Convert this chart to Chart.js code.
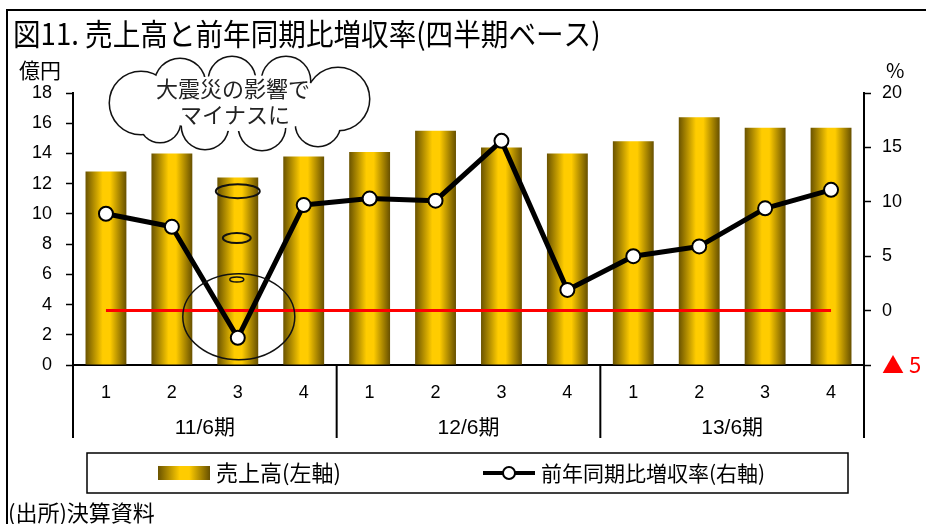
<!DOCTYPE html>
<html>
<head>
<meta charset="utf-8">
<script src="https://cdn.jsdelivr.net/npm/chart.js@4.4.1/dist/chart.umd.min.js"></script>
<style>
  html, body { margin: 0; padding: 0; background: #ffffff; }
  #wrap { width: 926px; height: 524px; position: relative; }
</style>
</head>
<body>
<div id="wrap"><canvas id="c" width="926" height="524"></canvas></div>
<script>
// Quarterly sales (億円) and year-on-year growth (%)
const quarters = ['1', '2', '3', '4', '1', '2', '3', '4', '1', '2', '3', '4'];
const fiscalYears = ['11/6期', '12/6期', '13/6期'];
const sales = [12.8, 14.0, 12.4, 13.8, 14.1, 15.5, 14.4, 14.0, 14.8, 16.4, 15.7, 15.7];
const growth = [8.9, 7.7, -2.5, 9.7, 10.3, 10.1, 15.6, 1.9, 5.0, 5.9, 9.4, 11.1];
const zeroLine = [0, 0, 0, 0, 0, 0, 0, 0, 0, 0, 0, 0];
const salesAxis = { min: 0, max: 18, step: 2 };
const growthAxis = { min: -5, max: 20, step: 5 };

const titleText = '図11. 売上高と前年同期比増収率(四半期ベース)';
const salesLabel = '売上高(左軸)';
const growthLabel = '前年同期比増収率(右軸)';
const calloutLines = ['大震災の影響で', 'マイナスに'];
const sourceText = '(出所)決算資料';

const JP = '"Noto Sans CJK JP", "Noto Sans", sans-serif';
const NUM = '"Liberation Sans", Arial, sans-serif';
const NARROW = '"Liberation Sans Narrow", "Liberation Sans", "Noto Sans CJK JP", sans-serif';
const BAR_PCT = 0.62;

function goldStops(g) {
  g.addColorStop(0, '#6a5300');
  g.addColorStop(0.42, '#ffcc00');
  g.addColorStop(0.6, '#ffcc00');
  g.addColorStop(1, '#675000');
  return g;
}

function goldFill(context) {
  const chart = context.chart;
  const xs = chart.scales && chart.scales.x;
  if (!xs || context.dataIndex === undefined) return '#ffcc00';
  const cx = xs.getPixelForValue(context.dataIndex);
  const half = (xs.width / quarters.length) * BAR_PCT / 2;
  if (!isFinite(cx) || !isFinite(half) || half <= 0) return '#ffcc00';
  return goldStops(chart.ctx.createLinearGradient(cx - half, 0, cx + half, 0));
}

// Cloud outline built as the union of overlapping lobes
const cloudLobes = [
  [141, 103, 31], [180, 84, 25], [232, 80, 23], [286, 81, 24], [338, 99, 31],
  [318, 124, 22], [262, 127, 23], [205, 126, 23], [160, 122, 20]
];
function drawCloud(ctx) {
  ctx.save();
  ctx.strokeStyle = '#111111';
  ctx.lineWidth = 3;
  cloudLobes.forEach(([x, y, r]) => {
    ctx.beginPath();
    ctx.arc(x, y, r, 0, Math.PI * 2);
    ctx.stroke();
  });
  ctx.fillStyle = '#ffffff';
  cloudLobes.forEach(([x, y, r]) => {
    ctx.beginPath();
    ctx.arc(x, y, r, 0, Math.PI * 2);
    ctx.fill();
  });
  ctx.beginPath();
  ctx.ellipse(240, 103, 100, 28, 0, 0, Math.PI * 2);
  ctx.fill();
  ctx.restore();
}

function ellipse(ctx, cx, cy, rx, ry, lw) {
  ctx.beginPath();
  ctx.ellipse(cx, cy, rx, ry, 0, 0, Math.PI * 2);
  ctx.lineWidth = lw;
  ctx.strokeStyle = '#111111';
  ctx.stroke();
}

// Frame, title, unit labels and source note
const framePlugin = {
  id: 'frame',
  beforeDraw(chart) {
    const ctx = chart.ctx;
    ctx.save();
    ctx.fillStyle = '#ffffff';
    ctx.fillRect(0, 0, chart.width, chart.height);
    ctx.strokeStyle = '#000000';
    ctx.lineWidth = 2;
    ctx.beginPath();
    ctx.moveTo(7, chart.height);
    ctx.lineTo(7, 10);
    ctx.lineTo(chart.width, 10);
    ctx.stroke();

    ctx.fillStyle = '#000000';
    ctx.textBaseline = 'middle';
    ctx.textAlign = 'left';
    ctx.save();
    ctx.translate(13, 34);
    ctx.scale(0.92, 1);
    ctx.font = '30px ' + JP;
    ctx.fillText(titleText, 0, 0);
    ctx.restore();

    ctx.font = '21px ' + JP;
    ctx.fillText('億円', 19, 70);
    ctx.font = '20px ' + JP;
    ctx.fillText('%', 886, 70);

    ctx.font = '22px ' + JP;
    ctx.fillText(sourceText, 8, 513);
    ctx.restore();
  }
};

// Fiscal-year groups beneath the quarter labels, plus the legend box
const groupPlugin = {
  id: 'groups',
  afterDraw(chart) {
    const ctx = chart.ctx;
    const xs = chart.scales.x;
    const area = chart.chartArea;
    const per = quarters.length / fiscalYears.length;
    const bottom = area.bottom + 73;
    const edges = [];
    for (let i = 0; i <= fiscalYears.length; i++) {
      if (i === 0) edges.push(area.left);
      else if (i === fiscalYears.length) edges.push(area.right);
      else edges.push((xs.getPixelForValue(i * per - 1) + xs.getPixelForValue(i * per)) / 2);
    }
    ctx.save();
    ctx.strokeStyle = '#000000';
    ctx.lineWidth = 2;
    edges.forEach(x => {
      ctx.beginPath();
      ctx.moveTo(x, area.bottom);
      ctx.lineTo(x, bottom);
      ctx.stroke();
    });
    ctx.fillStyle = '#000000';
    ctx.font = '21px ' + NARROW;
    ctx.textAlign = 'center';
    ctx.textBaseline = 'middle';
    fiscalYears.forEach((lab, i) => {
      ctx.fillText(lab, (edges[i] + edges[i + 1]) / 2, area.bottom + 63);
    });

    // legend
    const lx0 = 87, ly0 = 453, lx1 = 848, ly1 = 493, my = 473;
    ctx.lineWidth = 1.5;
    ctx.strokeRect(lx0, ly0, lx1 - lx0, ly1 - ly0);
    ctx.fillStyle = goldStops(ctx.createLinearGradient(158, 0, 210, 0));
    ctx.fillRect(158, 466, 52, 14);
    ctx.fillStyle = '#000000';
    ctx.font = '22px ' + JP;
    ctx.textAlign = 'left';
    ctx.fillText(salesLabel, 216, my);

    ctx.beginPath();
    ctx.moveTo(483, my);
    ctx.lineTo(535, my);
    ctx.lineWidth = 4;
    ctx.stroke();
    ctx.beginPath();
    ctx.arc(509, my, 6, 0, Math.PI * 2);
    ctx.fillStyle = '#ffffff';
    ctx.fill();
    ctx.lineWidth = 2;
    ctx.stroke();
    ctx.fillStyle = '#000000';
    ctx.font = '21px ' + JP;
    ctx.fillText(growthLabel, 541, my);
    ctx.restore();
  }
};

// Callout: cloud note and the ring around the third quarter of 11/6期
const calloutPlugin = {
  id: 'callout',
  afterDatasetsDraw(chart) {
    const ctx = chart.ctx;
    const xs = chart.scales.x;
    const ys = chart.scales.y;
    const qx = xs.getPixelForValue(2);
    ctx.save();
    drawCloud(ctx);
    ctx.fillStyle = '#222222';
    ctx.font = '22px ' + JP;
    ctx.textAlign = 'center';
    ctx.textBaseline = 'middle';
    ctx.fillText(calloutLines[0], 233, 89);
    ctx.fillText(calloutLines[1], 235, 115);

    ellipse(ctx, qx, ys.getPixelForValue(11.5), 22, 7, 2);
    ellipse(ctx, qx - 1, ys.getPixelForValue(8.4), 14, 5, 2);
    ellipse(ctx, qx - 1, ys.getPixelForValue(5.65), 7, 2.5, 1.5);
    ellipse(ctx, qx + 1, ys.getPixelForValue(3.2), 56, 43, 1.5);
    ctx.restore();
  }
};

new Chart(document.getElementById('c'), {
  data: {
    labels: quarters,
    datasets: [
      {
        type: 'line',
        label: '0%',
        data: zeroLine,
        yAxisID: 'y1',
        borderColor: '#ff0000',
        borderWidth: 3,
        pointRadius: 0,
        tension: 0,
        order: 1
      },
      {
        type: 'line',
        label: growthLabel,
        data: growth,
        yAxisID: 'y1',
        borderColor: '#000000',
        borderWidth: 5,
        borderJoinStyle: 'round',
        pointRadius: 7,
        pointBackgroundColor: '#ffffff',
        pointBorderColor: '#000000',
        pointBorderWidth: 2,
        tension: 0,
        order: 0
      },
      {
        type: 'bar',
        label: salesLabel,
        data: sales,
        yAxisID: 'y',
        backgroundColor: goldFill,
        borderWidth: 0,
        barPercentage: BAR_PCT,
        categoryPercentage: 1,
        order: 2
      }
    ]
  },
  options: {
    responsive: false,
    animation: false,
    devicePixelRatio: 1,
    layout: { padding: { top: 93, bottom: 86, left: 0, right: 0 } },
    plugins: {
      legend: { display: false },
      title: { display: false },
      tooltip: { enabled: false }
    },
    scales: {
      x: {
        type: 'category',
        offset: true,
        grid: { display: false, drawTicks: false },
        border: { display: true, color: '#000000', width: 2 },
        ticks: { color: '#000000', padding: 17, maxRotation: 0, font: { family: NARROW, size: 18 } },
        afterFit(s) { s.height = 73; }
      },
      y: {
        position: 'left',
        min: salesAxis.min,
        max: salesAxis.max,
        ticks: { stepSize: salesAxis.step, color: '#000000', padding: 14, font: { family: NUM, size: 18 } },
        grid: { drawOnChartArea: false, tickLength: 7, color: '#000000', tickWidth: 1.5 },
        border: { color: '#000000', width: 2 },
        afterFit(s) { s.width = 73; }
      },
      y1: {
        position: 'right',
        min: growthAxis.min,
        max: growthAxis.max,
        ticks: {
          stepSize: growthAxis.step,
          padding: 11,
          font: c => (c.tick && c.tick.value < 0 ? { family: JP, size: 22 } : { family: NUM, size: 18 }),
          color: c => (c.tick && c.tick.value < 0 ? '#ff0000' : '#000000'),
          callback: v => (v < 0 ? '▲ ' + Math.abs(v) : String(v))
        },
        grid: { drawOnChartArea: false, tickLength: 7, color: '#000000', tickWidth: 1.5 },
        border: { color: '#000000', width: 2 },
        afterFit(s) { s.width = 62; }
      }
    }
  },
  plugins: [framePlugin, groupPlugin, calloutPlugin]
});
</script>
</body>
</html>
